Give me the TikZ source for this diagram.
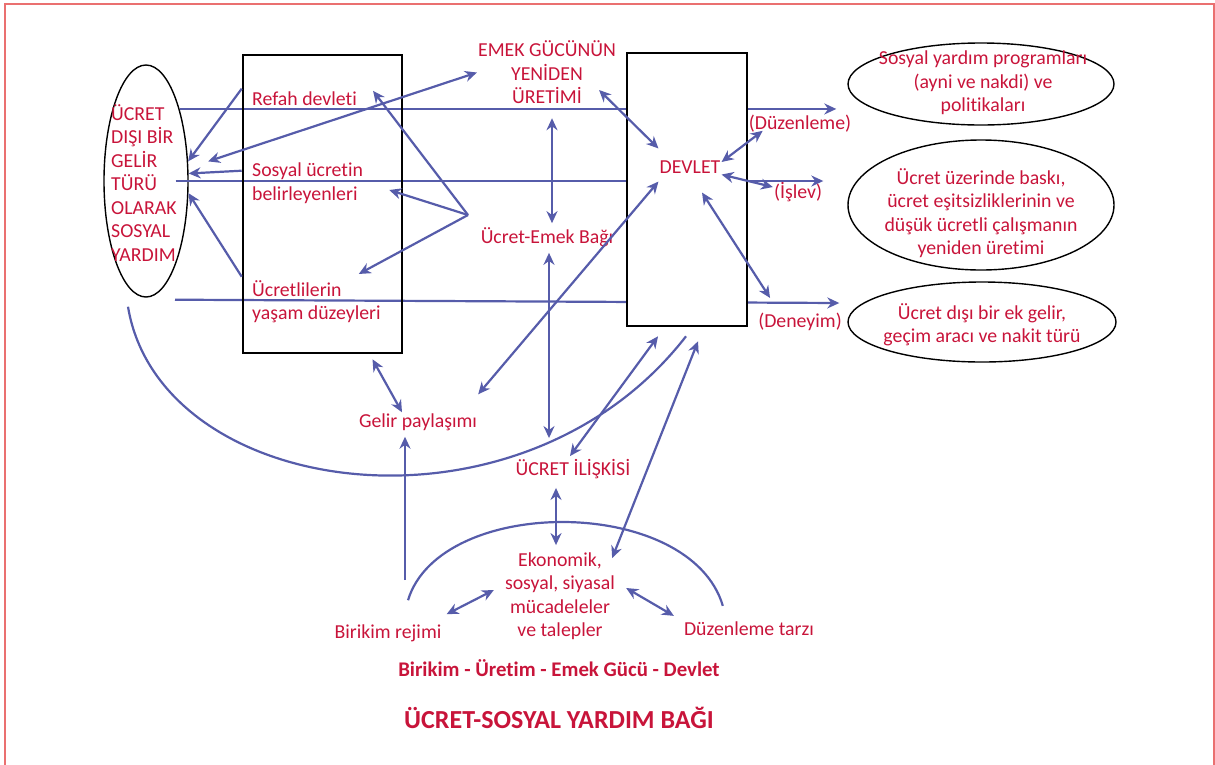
\documentclass[tikz,border=0pt]{standalone}
\usepackage{fontspec}
\setmainfont[Ligatures=NoCommon]{Carlito}
\usetikzlibrary{shapes.geometric,arrows.meta}
\definecolor{txtred}{RGB}{200,20,58}
\definecolor{arrblue}{RGB}{86,92,170}
\definecolor{framered}{RGB}{234,112,112}
\tikzset{
  txt/.style={text=txtred, font=\fontsize{19.8}{23.5}\selectfont, inner sep=1pt},
  line/.style={draw=arrblue, line width=2.2pt},
  arr/.style={line, -{Stealth[length=12pt,width=11pt]}},
  darr/.style={line, {Stealth[length=12pt,width=11pt]}-{Stealth[length=12pt,width=11pt]}},
  bigbox/.style={draw=black, line width=2.6pt, inner sep=0pt},
  oval/.style={ellipse, draw=black, line width=1.4pt, inner sep=0pt},
}
\begin{document}
\begin{tikzpicture}[x=1pt,y=-1pt]
\useasboundingbox (0,0) rectangle (1215,764);
%---frame-------------------------------------------
\begin{scope}
\clip (0,0) rectangle (1215,764);
\draw[framered, line width=2pt] (5,4) rectangle (1214,790);
\end{scope}
%---ovals-------------------------------------------
\node[oval, minimum width=84pt, minimum height=232pt] (sy) at (146,181) {};
\node[txt, align=left, anchor=west] (syt) at (110,183) {ÜCRET\\DIŞI BİR\\GELİR\\TÜRÜ\\OLARAK\\SOSYAL\\YARDIM};
\node[oval, minimum width=266pt, minimum height=82pt] (e1) at (981,84) {};
\node[oval, minimum width=266pt, minimum height=130pt] (e2) at (981,205) {};
\node[oval, minimum width=268pt, minimum height=80pt] (e3) at (982,322) {};
\node[txt, align=center] (e1t) at (983,83) {Sosyal yardım programları\\(ayni ve nakdi) ve\\politikaları};
\node[txt, align=center] (e2t) at (981,213) {Ücret üzerinde baskı,\\ücret eşitsizliklerinin ve\\düşük ücretli çalışmanın\\yeniden üretimi};
\node[txt, align=center] (e3t) at (982,325) {Ücret dışı bir ek gelir,\\geçim aracı ve nakit türü};
%---long lines--------------------------------------
\draw[arr, shorten >=11pt] (sy.65) -- (sy.65 -| e1.west);
\draw[arr, shorten >=11pt] ([xshift=-13pt]sy.east) -- ([xshift=-13pt]sy.east -| e2.west);
\draw[arr] ([xshift=29pt,yshift=-2pt]sy.south) -- ([xshift=-8pt,yshift=19pt]e3.west);
%---boxes-------------------------------------------
\node[bigbox, minimum width=159pt, minimum height=298pt] (lbox) at (322.5,204) {};
\node[bigbox, fill=white, minimum width=120pt, minimum height=273pt] (rbox) at (687,189.5) {};
%---text--------------------------------------------
\node[txt, anchor=west] (refah) at (251,99) {Refah devleti};
\node[txt, anchor=west, align=left] (belir) at (251,183) {Sosyal ücretin\\belirleyenleri};
\node[txt, anchor=west, align=left] (yasam) at (251,301.5) {Ücretlilerin\\yaşam düzeyleri};
\node[txt, align=center] (emek) at (547,72.5) {EMEK GÜCÜNÜN\\YENİDEN\\ÜRETİMİ};
\node[txt] (bag) at (547,237) {Ücret-Emek Bağı};
\node[txt] (devlet) at (690,167) {DEVLET};
\node[txt] (duz) at (800,124) {(Düzenleme)};
\node[txt] (islev) at (798,192) {(İşlev)};
\node[txt] (deney) at (800,322) {(Deneyim)};
\node[txt] (gelir) at (418,422) {Gelir paylaşımı};
\node[txt] (iliski) at (573,469) {ÜCRET İLİŞKİSİ};
\node[txt, align=center] (muc) at (560,596) {Ekonomik,\\sosyal, siyasal\\mücadeleler\\ve talepler};
\node[txt] (birikim) at (388,633) {Birikim rejimi};
\node[txt] (tarz) at (749,629) {Düzenleme tarzı};
\node[txt, font=\bfseries\fontsize{20.8}{24}\selectfont] (alt) at (559,668) {Birikim - Üretim - Emek Gücü - Devlet};
\node[txt, font=\bfseries\fontsize{26}{30}\selectfont] (baslik) at (559,718) {ÜCRET-SOSYAL YARDIM BAĞI};
%---left arrows-------------------------------------
\draw[arr] ([yshift=-35pt]lbox.north west) -- (sy.25);
\draw[arr] ([yshift=-117pt]lbox.north west) -- (sy.10);
\draw[arr] ([yshift=-223pt]lbox.north west) -- (sy.-16);
\draw[darr] (emek.west) -- ([xshift=20pt]sy.25);
\coordinate (fan) at (468,215);
\draw[arr] (fan) -- ([xshift=15pt]refah.north east);
\draw[arr] (fan) -- ([xshift=25pt,yshift=-7pt]belir.east);
\draw[arr] (fan) -- ([xshift=-23pt,yshift=5pt]yasam.north east);
%---centre arrows-----------------------------------
\draw[darr, shorten <=13pt, shorten >=3pt] ([xshift=5pt]emek.south) -- ([xshift=5pt]bag.north);
\draw[darr, shorten <=5pt] ([xshift=2pt]bag.south) -- ([xshift=-24pt,yshift=20pt]iliski.north);
\draw[darr] ([yshift=18pt]gelir.north east) -- ([yshift=-7pt]devlet.south west);
\draw[darr] ([xshift=-18pt,yshift=-17.5pt]emek.east) -- ([yshift=11pt]devlet.north west);
\draw[darr] ([yshift=5pt]devlet.east) -- ([xshift=15pt,yshift=3pt]duz.south west);
\draw[darr] (devlet.south east) -- ([yshift=5pt]islev.west);
\draw[darr] ([xshift=12pt,yshift=-18pt]devlet.south) -- ([xshift=13pt,yshift=14pt]deney.north west);
\draw[darr] ([xshift=50pt,yshift=-5pt]lbox.south) -- ([xshift=-16pt]gelir.north);
%---bottom arrows-----------------------------------
\draw[arr] ([xshift=17pt,yshift=43pt]birikim.north) -- ([xshift=-13pt,yshift=-5pt]gelir.south);
\draw[darr] ([xshift=-17pt,yshift=-8pt]iliski.south) -- ([xshift=-4pt,yshift=6pt]muc.north);
\draw[darr] ([xshift=4pt,yshift=9pt]birikim.north east) -- ([xshift=-10pt,yshift=6pt]muc.west);
\draw[darr] ([xshift=10pt,yshift=8pt]muc.east) -- ([xshift=-9pt,yshift=5pt]tarz.north west);
\draw[darr] ([xshift=-3pt,yshift=2pt]iliski.north) -- ([xshift=-29pt,yshift=-9pt]rbox.south);
\draw[darr] ([xshift=-4pt,yshift=-7pt]muc.north east) -- ([xshift=11pt,yshift=-14pt]rbox.south);
%---arcs--------------------------------------------
\draw[line] ([xshift=-18pt,yshift=-9pt]sy.south) .. controls (160,500) and (520,550) .. ([xshift=-1pt,yshift=-9pt]rbox.south);
\draw[line] ([xshift=20pt,yshift=23pt]birikim.north) .. controls (440,495) and (690,495) .. ([xshift=40pt,yshift=15pt]tarz.north west);
\end{tikzpicture}
\end{document}
